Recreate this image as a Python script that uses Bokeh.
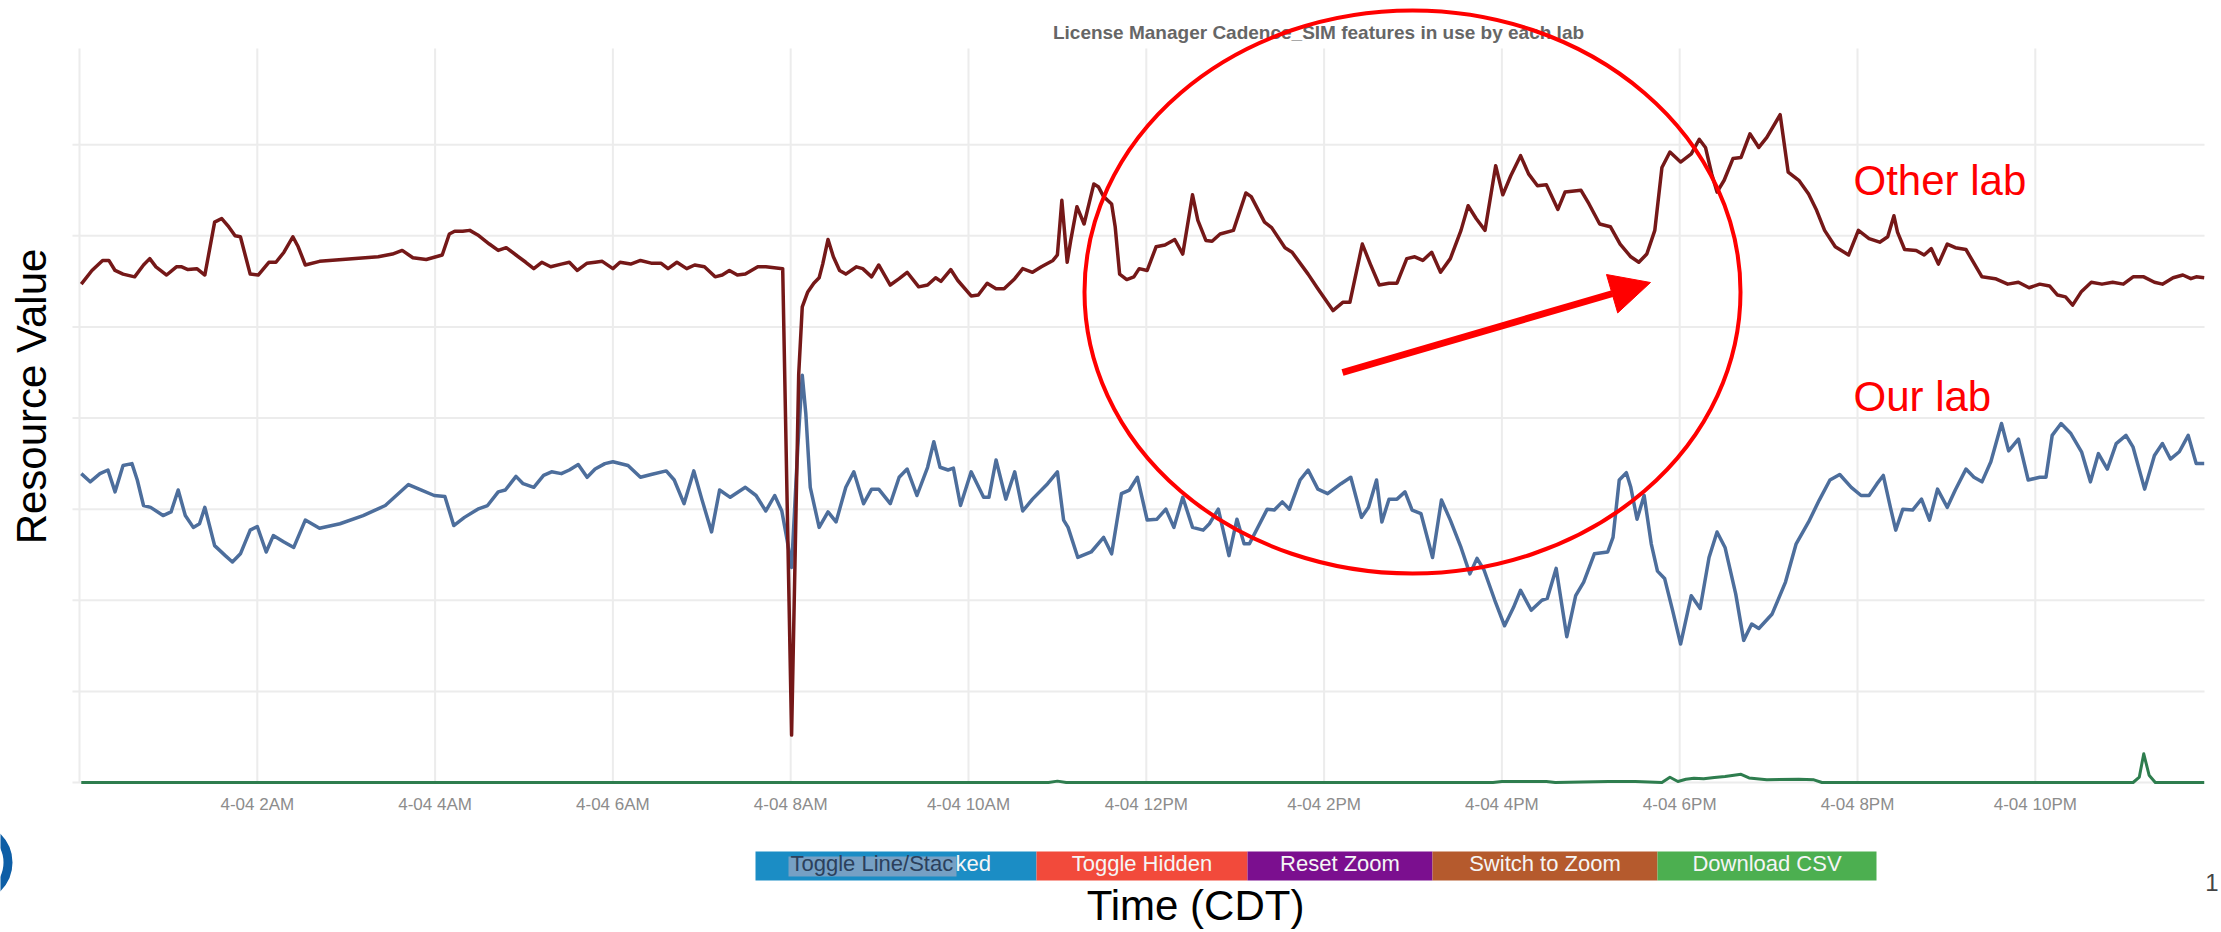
from math import pi
from bokeh.plotting import figure
from bokeh.models import Range1d, LinearAxis, FixedTicker, Arrow, NormalHead
from bokeh.core.properties import value
from bokeh.embed import file_html
from bokeh.resources import INLINE

# ---------------- data (hours since 4-04 00:00, resource value) ----------------
other_lab_t = [0.02, 0.14, 0.26, 0.33, 0.40, 0.49, 0.62, 0.72, 0.79, 0.86, 0.98, 1.09, 1.15, 1.22, 1.32,
               1.41, 1.52, 1.60, 1.67, 1.75, 1.81, 1.92, 2.01, 2.13, 2.21, 2.30, 2.40, 2.46, 2.54, 2.70,
               3.36, 3.52, 3.63, 3.75, 3.90, 4.08, 4.16, 4.22, 4.31, 4.39, 4.48, 4.61, 4.71, 4.80, 4.91,
               5.02, 5.11, 5.20, 5.30, 5.42, 5.51, 5.60, 5.71, 5.80, 5.88, 6.00, 6.08, 6.20, 6.31, 6.43,
               6.54, 6.62, 6.72, 6.83, 6.92, 7.03, 7.15, 7.23, 7.31, 7.40, 7.49, 7.63, 7.72, 7.91, 8.01,
               8.09, 8.13, 8.19, 8.26, 8.32, 8.36, 8.42, 8.48, 8.55, 8.62, 8.74, 8.81, 8.91, 8.99, 9.12,
               9.22, 9.31, 9.44, 9.54, 9.63, 9.69, 9.80, 9.88, 10.03, 10.11, 10.21, 10.31, 10.40, 10.52,
               10.61, 10.72, 10.82, 10.95, 11.00, 11.05, 11.11, 11.15, 11.22, 11.30, 11.41, 11.46, 11.52,
               11.61, 11.65, 11.70, 11.78, 11.86, 11.92, 12.01, 12.11, 12.21, 12.32, 12.41, 12.52, 12.58,
               12.67, 12.74, 12.83, 12.98, 13.12, 13.18, 13.33, 13.41, 13.56, 13.64, 13.82, 13.93, 14.10,
               14.21, 14.29, 14.43, 14.52, 14.62, 14.73, 14.82, 14.93, 15.02, 15.11, 15.21, 15.31, 15.42,
               15.54, 15.62, 15.71, 15.81, 15.93, 16.01, 16.10, 16.21, 16.30, 16.40, 16.50, 16.63, 16.71,
               16.89, 16.98, 17.10, 17.22, 17.33, 17.45, 17.54, 17.63, 17.72, 17.80, 17.89, 18.01, 18.13,
               18.22, 18.29, 18.36, 18.42, 18.50, 18.60, 18.69, 18.79, 18.89, 18.98, 19.13, 19.22, 19.34,
               19.45, 19.54, 19.63, 19.75, 19.90, 20.01, 20.13, 20.25, 20.34, 20.41, 20.45, 20.53, 20.66,
               20.75, 20.83, 20.91, 21.01, 21.10, 21.22, 21.40, 21.55, 21.69, 21.81, 21.93, 22.05, 22.16,
               22.25, 22.34, 22.42, 22.52, 22.63, 22.75, 22.87, 22.99, 23.10, 23.22, 23.34, 23.43, 23.55,
               23.66, 23.75, 23.81, 23.90]
other_lab_v = [54.7, 56.2, 57.3, 57.3, 56.2, 55.8, 55.5, 56.8, 57.5, 56.6, 55.7, 56.6, 56.6, 56.3, 56.4,
               55.7, 61.5, 61.9, 61.1, 60.0, 59.9, 55.8, 55.7, 57.1, 57.1, 58.2, 59.9, 58.8, 56.8, 57.2,
               57.7, 58.0, 58.4, 57.6, 57.4, 57.9, 60.2, 60.5, 60.5, 60.6, 60.1, 59.1, 58.4, 58.7, 57.9,
               57.1, 56.4, 57.1, 56.6, 56.9, 57.1, 56.2, 57.0, 57.1, 57.2, 56.4, 57.1, 56.9, 57.3, 57.0,
               57.0, 56.4, 57.1, 56.4, 56.8, 56.6, 55.5, 55.7, 56.2, 55.7, 55.8, 56.6, 56.6, 56.4, 5.2,
               44.8, 52.2, 53.8, 54.8, 55.4, 56.9, 59.6, 57.7, 56.2, 55.8, 56.6, 56.4, 55.5, 56.8, 54.6,
               55.3, 56.0, 54.4, 54.6, 55.4, 55.0, 56.3, 55.1, 53.4, 53.5, 54.8, 54.2, 54.2, 55.3,
               56.4, 56.0, 56.6, 57.3, 57.9, 63.9, 57.1, 59.5, 63.2, 61.3, 65.7, 65.4, 64.3,
               63.5, 61.0, 55.8, 55.2, 55.5, 56.4, 56.2, 58.8, 59.0, 59.6, 58.0, 64.5, 61.7,
               59.5, 59.4, 60.2, 60.6, 64.7, 64.3, 61.5, 60.9, 58.7, 58.2, 55.8, 54.2, 51.8,
               52.7, 52.7, 59.1, 56.9, 54.6, 54.8, 54.8, 57.5, 57.7, 57.3, 58.2, 56.0, 57.5,
               60.6, 63.3, 61.9, 60.6, 67.7, 64.5, 66.6, 68.8, 66.8, 65.5, 65.6, 62.9, 64.8,
               65.0, 63.5, 61.3, 61.0, 59.1, 57.7, 57.1, 58.0, 60.6, 67.5, 69.2, 68.1, 69.0,
               70.6, 69.7, 66.8, 64.8, 66.1, 68.5, 68.6, 71.2, 69.7, 70.8, 73.3, 67.0, 66.1,
               64.6, 62.8, 60.6, 58.8, 57.9, 60.6, 59.7, 59.3, 59.9, 62.2, 60.4, 58.5, 58.4,
               57.9, 58.6, 56.9, 59.1, 58.7, 58.5, 55.5, 55.3, 54.7, 54.9, 54.3, 54.7, 54.5,
               53.5, 53.3, 52.4, 53.9, 54.9, 54.7, 54.9, 54.7, 55.5, 55.5, 54.9, 54.7, 55.4,
               55.7, 55.3, 55.5, 55.4]

our_lab_t = [0.02, 0.12, 0.23, 0.32, 0.40, 0.49, 0.59, 0.65, 0.72, 0.80, 0.94, 1.03, 1.11, 1.19, 1.28,
             1.35, 1.41, 1.52, 1.64, 1.72, 1.81, 1.92, 2.00, 2.10, 2.18, 2.30, 2.41, 2.54, 2.70, 2.93,
             3.19, 3.44, 3.70, 3.82, 3.99, 4.11, 4.21, 4.33, 4.48, 4.59, 4.71, 4.79, 4.91, 4.99, 5.11,
             5.22, 5.31, 5.42, 5.51, 5.61, 5.71, 5.80, 5.91, 6.00, 6.17, 6.31, 6.43, 6.60, 6.69, 6.80,
             6.91, 7.00, 7.11, 7.20, 7.32, 7.49, 7.61, 7.72, 7.82, 7.90, 7.96, 8.01, 8.08, 8.13, 8.17,
             8.22, 8.32, 8.42, 8.51, 8.62, 8.71, 8.82, 8.91, 8.99, 9.12, 9.22, 9.31, 9.42, 9.54, 9.61,
             9.68, 9.77, 9.83, 9.91, 10.03, 10.17, 10.23, 10.31, 10.42, 10.52, 10.61, 10.72, 10.89, 11.00,
             11.07, 11.12, 11.23, 11.38, 11.52, 11.61, 11.72, 11.81, 11.90, 12.01, 12.12, 12.22, 12.31,
             12.41, 12.52, 12.64, 12.71, 12.81, 12.93, 13.02, 13.10, 13.16, 13.36, 13.44, 13.53, 13.61,
             13.73, 13.82, 13.93, 14.04, 14.19, 14.30, 14.42, 14.50, 14.59, 14.65, 14.73, 14.82, 14.91,
             14.99, 15.09, 15.22, 15.32, 15.42, 15.54, 15.64, 15.72, 15.80, 15.92, 16.03, 16.13, 16.21,
             16.33, 16.45, 16.51, 16.61, 16.73, 16.83, 16.92, 17.04, 17.19, 17.25, 17.32, 17.40, 17.45,
             17.52, 17.60, 17.68, 17.75, 17.83, 17.92, 18.01, 18.13, 18.23, 18.33, 18.42, 18.51, 18.63,
             18.72, 18.81, 18.89, 19.04, 19.19, 19.31, 19.45, 19.57, 19.69, 19.80, 19.93, 20.04, 20.13,
             20.22, 20.29, 20.37, 20.43, 20.51, 20.62, 20.72, 20.81, 20.90, 21.01, 21.10, 21.22, 21.31,
             21.40, 21.50, 21.62, 21.70, 21.81, 21.92, 22.05, 22.12, 22.19, 22.29, 22.40, 22.52, 22.62,
             22.71, 22.81, 22.91, 23.02, 23.10, 23.23, 23.34, 23.43, 23.52, 23.62, 23.72, 23.81, 23.90]
our_lab_v = [33.9, 33.0, 33.9, 34.3, 31.9, 34.8, 35.0, 33.2, 30.4, 30.2, 29.3, 29.7, 32.1, 29.3, 28.0,
             28.4, 30.2, 26.0, 24.9, 24.2, 25.1, 27.7, 28.1, 25.3, 27.1, 26.4, 25.8, 28.8, 27.9, 28.4,
             29.3, 30.4, 32.7, 32.2, 31.5, 31.4, 28.2, 29.1, 30.0, 30.4, 31.9, 32.1, 33.6, 32.8, 32.4,
             33.7, 34.1, 33.9, 34.3, 34.9, 33.5, 34.4, 35.0, 35.2, 34.8, 33.5, 33.8, 34.2, 33.2, 30.6,
             34.2, 31.1, 27.5, 32.1, 31.3, 32.4, 31.5, 29.8, 31.5, 29.8, 26.6, 23.6, 36.8, 44.7, 40.5,
             32.4, 28.0, 29.7, 28.6, 32.4, 34.1, 30.6, 32.2, 32.2, 30.6, 33.5, 34.4, 31.5, 34.6, 37.4,
             34.6, 34.3, 34.5, 30.4, 34.1, 31.3, 31.3, 35.4, 31.1, 34.1, 29.8, 31.1, 32.8, 34.1,
             28.8, 28.0, 24.7, 25.3, 26.9, 25.1, 31.7, 32.1, 33.5, 28.8, 28.9, 30.0, 28.0,
             31.3, 28.0, 27.7, 28.4, 30.0, 24.9, 28.9, 26.2, 26.2, 30.0, 29.9, 30.8, 30.0,
             33.2, 34.3, 32.2, 31.7, 32.8, 33.5, 29.1, 30.2, 33.2, 28.6, 31.1, 31.1, 31.9,
             29.9, 29.5, 24.7, 31.0, 28.8, 25.8, 22.9, 24.6, 23.3, 20.0, 17.2, 19.2, 21.1,
             18.9, 20.0, 20.2, 23.5, 16.0, 20.5, 22.0, 25.1, 25.3, 26.9, 33.2, 34.0, 32.4,
             28.9, 31.5, 26.2, 23.2, 22.4, 18.9, 15.2, 20.5, 19.1, 24.7, 27.5, 25.8, 20.7,
             15.6, 17.4, 16.9, 18.5, 22.0, 26.2, 28.6, 31.0, 33.2, 33.8, 32.4, 31.5, 31.5,
             32.8, 33.7, 30.2, 27.7, 30.0, 29.9, 31.1, 28.8, 32.2, 30.2, 32.1, 34.4, 33.5,
             33.0, 35.2, 39.4, 36.4, 37.7, 33.2, 33.5, 33.5, 38.1, 39.4, 38.3, 36.3, 33.0,
             36.1, 34.4, 37.2, 38.1, 36.8, 32.2, 35.9, 37.2, 35.5, 36.3, 38.1, 35.0, 35.0]

third_lab_t = [0.02, 10.90, 11.00, 11.10, 15.90, 16.00, 16.50, 16.60, 17.20, 17.50, 17.80, 17.89, 17.98,
               18.07, 18.16, 18.27, 18.39, 18.51, 18.69, 18.78, 18.98, 19.34, 19.51, 19.60, 23.10, 23.17,
               23.22, 23.28, 23.35, 23.90]
third_lab_v = [0.0, 0.0, 0.15, 0.0, 0.0, 0.1, 0.1, 0.0, 0.1, 0.1, 0.0, 0.58, 0.11,
               0.35, 0.47, 0.40, 0.55, 0.66, 0.90, 0.50, 0.30, 0.37, 0.29, 0.0, 0.0, 0.6,
               3.15, 0.8, 0.0, 0.0]

tick_hours = [2, 4, 6, 8, 10, 12, 14, 16, 18, 20, 22]
tick_labels = ["4-04 2AM", "4-04 4AM", "4-04 6AM", "4-04 8AM", "4-04 10AM", "4-04 12PM",
               "4-04 2PM", "4-04 4PM", "4-04 6PM", "4-04 8PM", "4-04 10PM"]
vgrid_hours = [0, 2, 4, 6, 8, 10, 12, 14, 16, 18, 20, 22]
hgrid_values = [0, 10, 20, 30, 40, 50, 60, 70]

chart_title = "License Manager Cadence_SIM features in use by each lab"
y_title = "Resource Value"
x_title = "Time (CDT)"
series_names = ["Other lab", "Our lab"]
button_labels = ["Toggle Line/Stacked", "Toggle Hidden", "Reset Zoom", "Switch to Zoom", "Download CSV"]

# ---------------- layout calibration (reference pixels -> data) ----------------
W, H, M = 2221, 932, 0
X0, PXH = 79.0, 88.9      # x pixel of 00:00, pixels per hour
Y0, PXV = 782.0, 9.111    # y pixel of value 0, pixels per value unit
K = 0.4                   # text glyph baseline correction (fraction of font size)


def tx(px):
    return (px - X0) / PXH


def vy(py):
    return (Y0 - py) / PXV


def base(py, fs):
    """data y for a text whose alphabetic baseline should sit at pixel py"""
    return vy(py - K * fs)


FONT = value("Liberation Sans")

p = figure(width=W, height=H, x_range=Range1d(tx(M), tx(M + W)), y_range=Range1d(vy(M + H), vy(M)),
           x_axis_type=None, y_axis_type=None, toolbar_location=None, output_backend="svg",
           min_border=0, title=None)
p.outline_line_color = None
p.background_fill_color = "white"
p.border_fill_color = "white"

# grid lines
p.segment(x0=vgrid_hours, y0=[0] * len(vgrid_hours), x1=vgrid_hours, y1=[vy(48)] * len(vgrid_hours),
          line_color="#ececec", line_width=2)
p.segment(x0=[tx(72)] * len(hgrid_values), y0=hgrid_values, x1=[tx(2204)] * len(hgrid_values),
          y1=hgrid_values, line_color="#ececec", line_width=2)

# x axis (tick labels) drawn at value 0
xaxis = LinearAxis(fixed_location=0, ticker=FixedTicker(ticks=tick_hours),
                   major_label_overrides={h: lab for h, lab in zip(tick_hours, tick_labels)})
xaxis.axis_line_color = None
xaxis.major_tick_line_color = None
xaxis.minor_tick_line_color = None
xaxis.major_tick_out = 0
xaxis.major_tick_in = 0
xaxis.major_label_standoff = 12
xaxis.major_label_text_font = "Liberation Sans"
xaxis.major_label_text_font_size = "17px"
xaxis.major_label_text_color = "#8c8c8c"
p.add_layout(xaxis, "below")

# series
p.line(our_lab_t, our_lab_v, line_color="#4d6e9c", line_width=3.5, line_join="round")
p.line(other_lab_t, other_lab_v, line_color="#751818", line_width=3.5, line_join="round")
p.line(third_lab_t, third_lab_v, line_color="#2e7d4e", line_width=3, line_join="round")

# title
p.text(x=[tx(1318)], y=[base(40, 19)], text=[chart_title], text_align="center",
       text_baseline="alphabetic", text_font=FONT, text_font_size="19px", text_font_style="bold",
       text_color="#666666")

# big annotation labels
p.text(x=[tx(48 - K * 42)], y=[vy(396)], text=[y_title], angle=pi / 2, text_align="center",
       text_baseline="alphabetic", text_font=FONT, text_font_size="42px", text_color="black")
p.text(x=[tx(1195)], y=[base(922, 42)], text=[x_title], text_align="center", text_baseline="alphabetic",
       text_font=FONT, text_font_size="42px", text_color="black")
p.text(x=[tx(1853), tx(1853)], y=[base(197, 42), base(413, 42)], text=series_names, text_align="left",
       text_baseline="alphabetic", text_font=FONT, text_font_size="42px", text_color="#ff0000")

# ellipse + arrow highlight
p.ellipse(x=[tx(1412)], y=[vy(291.5)], width=[656 / PXH], height=[563 / PXV],
          fill_color=None, line_color="#ff0000", line_width=4)
p.add_layout(Arrow(end=NormalHead(size=40, fill_color="#ff0000", line_color="#ff0000", line_width=1),
                   x_start=tx(1342), y_start=vy(372), x_end=tx(1650), y_end=vy(282),
                   line_color="#ff0000", line_width=7))

# slide decorations at the edges
p.ellipse(x=[tx(-27.8)], y=[vy(862)], width=[70.6 / PXH], height=[70.6 / PXV],
          fill_color=None, line_color="#0d5ea6", line_width=9)
p.text(x=[tx(2218)], y=[base(892, 24)], text=["1"], text_align="right", text_baseline="alphabetic",
       text_font=FONT, text_font_size="24px", text_color="#444444")

# dygraph control buttons
b_edges = [755, 1036, 1247, 1432, 1657, 1876]
b_colors = ["#1b8dc5", "#f24a3b", "#7b0f8f", "#b55a2d", "#4caf50"]
p.quad(left=[tx(e) for e in b_edges[:-1]], right=[tx(e) for e in b_edges[1:]],
       top=[vy(851)] * 5, bottom=[vy(880)] * 5, fill_color=b_colors, line_color=None)
# first button: partially selected text
BFS = 22
sel_w = 165
start = 790
p.quad(left=[tx(start - 2)], right=[tx(start + sel_w + 1)], top=[vy(856)], bottom=[vy(876)],
       fill_color="#76a0c4", line_color=None)
p.text(x=[tx(start)], y=[base(872, BFS)], text=[button_labels[0][:16]], text_align="left",
       text_baseline="alphabetic", text_font=FONT, text_font_size="22px", text_color="#2b405c")
p.text(x=[tx(start + sel_w)], y=[base(872, BFS)], text=[button_labels[0][16:]], text_align="left",
       text_baseline="alphabetic", text_font=FONT, text_font_size="22px", text_color="#f5f5f5")
p.text(x=[tx((b_edges[i] + b_edges[i + 1]) / 2) for i in range(1, 5)], y=[base(872, BFS)] * 4,
       text=button_labels[1:], text_align="center", text_baseline="alphabetic", text_font=FONT,
       text_font_size="22px", text_color="#f5f5f5")

open("out.html", "w").write(file_html(p, INLINE))
